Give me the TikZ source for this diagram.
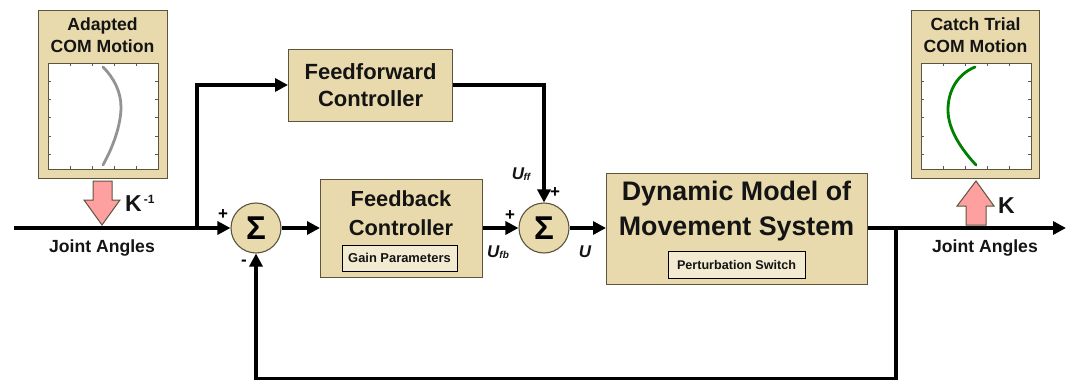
\documentclass[tikz,border=0pt]{standalone}
\usepackage{fontspec}
\setmainfont{Liberation Sans}
\usetikzlibrary{arrows.meta}
\definecolor{tan1}{RGB}{232,218,172}
\definecolor{edge1}{RGB}{92,84,60}
\definecolor{pink1}{RGB}{255,160,160}
\definecolor{txt1}{RGB}{20,20,20}
\tikzset{
  x=1pt,y=-1pt,
  block/.style={draw=edge1,line width=1.2pt,fill=tan1,inner sep=0pt,anchor=north west,align=center,text=txt1,font=\bfseries},
  innerbox/.style={draw=black,line width=0.9pt,fill=tan1!55!white,inner sep=0pt,text=txt1},
  sumnode/.style={circle,draw=edge1,line width=1.1pt,fill=tan1,minimum size=50pt,inner sep=0pt,font=\bfseries\fontsize{33}{33}\selectfont},
  plotbox/.style={draw=edge1,line width=0.8pt,fill=white,inner sep=0pt,anchor=north west},
  wire/.style={line width=3.8pt,-{Triangle[length=13pt,width=13pt]}},
  lab/.style={font=\bfseries\fontsize{17.6}{18}\selectfont,text=txt1,inner sep=0pt},
  ulab/.style={font=\bfseries\itshape\fontsize{17}{17}\selectfont,text=txt1,inner sep=0pt},
  sign/.style={font=\bfseries\fontsize{17}{17}\selectfont,text=black,inner sep=0pt},
  fatarrow/.style={draw=edge1,line width=1pt,fill=pink1,line join=miter},
  plottick/.style={draw=gray!70!black,line width=0.5pt},
}
\newcommand{\frameticks}[1]{%
  \foreach \i in {1,...,4}{
    \draw[plottick] (#1+\i*22,63) -- (#1+\i*22,66);
    \draw[plottick] (#1+\i*22,169) -- (#1+\i*22,166);
  }
  \foreach \i in {1,...,5}{
    \draw[plottick] (#1,63+\i*18.2) -- (#1+3,63+\i*18.2);
    \draw[plottick] (#1+110,63+\i*18.2) -- (#1+107,63+\i*18.2);
  }
}
\begin{document}
\begin{tikzpicture}
\useasboundingbox (0,0) rectangle (1072,380);
% plot panels
\node[block,minimum width=129pt,minimum height=168pt] (adapted) at (38,10) {};
\node[block,minimum width=128pt,minimum height=168pt] (catch) at (911,10) {};
\node[lab,align=center,font=\bfseries\fontsize{17.6}{22}\selectfont] (adaptedt) at (102.5,35.5) {Adapted\\COM Motion};
\node[lab,align=center,font=\bfseries\fontsize{17.6}{22}\selectfont] (catcht) at (975.5,35.5) {Catch Trial\\COM Motion};
\node[plotbox,minimum width=110pt,minimum height=106pt] (plotl) at (48,63) {};
\node[plotbox,minimum width=110pt,minimum height=106pt] (plotr) at (921,63) {};
\frameticks{48}
\frameticks{921}
\draw[line width=2.8pt,color=gray!85,line cap=round] (103,67) .. controls (114,78) and (121,92) .. (121,107) .. controls (121,125) and (113,147) .. (103,165);
\draw[line width=2.8pt,color=green!50!black,line cap=round] (975,67) .. controls (958,74) and (948,90) .. (948,110) .. controls (948,130) and (962,150) .. (976,165);
% blocks
\node[block,minimum width=164pt,minimum height=72pt,font=\bfseries\fontsize{22}{27}\selectfont] (ff) at (288,49) {Feedforward\\Controller};
\node[block,minimum width=162pt,minimum height=98pt] (fb) at (320,179) {};
\node[lab,align=center,font=\bfseries\fontsize{21.8}{29}\selectfont] (fbt) at (401,213) {Feedback\\Controller};
\node[innerbox,minimum width=115pt,minimum height=26pt,font=\bfseries\fontsize{12.9}{14}\selectfont] (gain) at (399.5,258) {Gain Parameters};
\node[block,minimum width=261pt,minimum height=111pt] (dyn) at (606,173) {};
\node[lab,align=center,font=\bfseries\fontsize{26.8}{35}\selectfont] (dynt) at (736.5,211) {Dynamic Model of\\Movement System};
\node[innerbox,minimum width=137pt,minimum height=27pt,font=\bfseries\fontsize{12.6}{14}\selectfont] (pert) at (736.5,264.5) {Perturbation Switch};
\node[sumnode] (s1) at (256,228) {Σ};
\node[sumnode] (s2) at (544,228) {Σ};
% free ends
\coordinate (in) at (14,228);
\coordinate (out) at (1066,228);
\coordinate (br) at (197,228);
\coordinate (tap) at (896,228);
\coordinate (bot1) at (896,379);
\coordinate (bot2) at (256,379);
% connectors
\draw[wire] (in) -- (s1.west);
\draw[wire,line join=miter] (br) -- (197,85) -- (ff.west |- 0,85);
\draw[wire,line join=miter] (ff.east |- 0,85) -- (544,85) -- (s2.north);
\draw[wire] (s1.east) -- (fb.west |- 0,228);
\draw[wire] (fb.east |- 0,228) -- (s2.west);
\draw[wire] (s2.east) -- (dyn.west |- 0,228);
\draw[wire] (dyn.east |- 0,228) -- (out);
\draw[wire,line join=miter] (tap) -- (bot1) -- (bot2) -- (s1.south);
% fat arrows
\draw[fatarrow] (93,181) -- (112,181) -- (112,200) -- (120,200) -- (102,225) -- (84,200) -- (93,200) -- cycle;
\draw[fatarrow] (966,225) -- (966,206) -- (957,206) -- (976,181) -- (994,206) -- (986,206) -- (986,225) -- cycle;
% labels
\node[lab,anchor=west,font=\bfseries\fontsize{23}{23}\selectfont] (kinv) at (125,203) {K\raisebox{8pt}{\fontsize{12}{12}\selectfont\,-1}};
\node[lab,anchor=west,font=\bfseries\fontsize{23}{23}\selectfont] (k) at (998,206) {K};
\node[lab] (jal) at (102,248) {Joint Angles};
\node[lab] (jar) at (985,248) {Joint Angles};
\node[ulab] (uff) at (521,174) {U\kern-0.5pt\raisebox{-1.5pt}{\fontsize{10}{10}\selectfont ff}};
\node[ulab] (ufb) at (498,252) {U\raisebox{-1.5pt}{\fontsize{10}{10}\selectfont fb}};
\node[ulab] (u) at (585,252) {U};
\node[sign] (p1) at (223,215) {+};
\node[sign] (p2) at (510,216) {+};
\node[sign] (p3) at (555,193) {+};
\node[sign] (m1) at (244,263) {-};
\end{tikzpicture}
\end{document}
